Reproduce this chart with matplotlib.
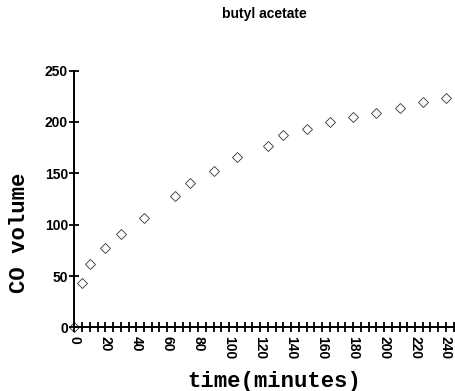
import numpy as np
import matplotlib.pyplot as plt
from matplotlib.ticker import MultipleLocator

# data
time_min = [0, 5, 10, 20, 30, 45, 65, 75, 90, 105, 125, 135, 150, 165, 180, 195, 210, 225, 240]
co_volume = [0, 43, 62, 77, 91, 107, 128, 141, 152, 166, 177, 187, 193, 200, 205, 209, 214, 219, 223]
x_ticks = list(range(0, 241, 20))
y_ticks = [0, 50, 100, 150, 200, 250]

tick_font = ['Liberation Sans Narrow', 'Liberation Sans', 'DejaVu Sans']
label_font = ['Liberation Mono', 'DejaVu Sans Mono']

fig = plt.figure(figsize=(4.56, 3.91), dpi=100)
ax = fig.add_axes([0.163, 0.1625, 0.832, 0.657])

ax.plot(time_min, co_volume, linestyle='none', marker='D', markersize=5.2,
        markerfacecolor='white', markeredgecolor='#333333', markeredgewidth=0.6,
        clip_on=False, zorder=1)

ax.set_xlim(0, 245)
ax.set_ylim(0, 250)

for s in ['top', 'right']:
    ax.spines[s].set_visible(False)
for s in ['left', 'bottom']:
    ax.spines[s].set_linewidth(1.4)
    ax.spines[s].set_zorder(3)

ax.xaxis.set_minor_locator(MultipleLocator(5))
ax.set_xticks(x_ticks)
ax.set_yticks(y_ticks)
ax.tick_params(axis='both', which='both', direction='inout', length=7, width=1.3)
ax.tick_params(axis='x', pad=3)
ax.tick_params(axis='y', pad=1)

for lab in ax.get_xticklabels():
    lab.set_family(tick_font)
    lab.set_fontweight('bold')
    lab.set_fontsize(10)
    lab.set_rotation(270)
for lab in ax.get_yticklabels():
    lab.set_family(tick_font)
    lab.set_fontweight('bold')
    lab.set_fontsize(10)

ax.set_xlabel('time(minutes)', family=label_font, fontweight='bold', fontsize=16, va='center')
ax.xaxis.set_label_coords(0.526, -0.212)
ax.set_ylabel('CO volume', family=label_font, fontweight='bold', fontsize=16, va='center')
ax.yaxis.set_label_coords(-0.144, 0.368)

fig.text(264 / 456, 1 - 14 / 391, 'butyl acetate', family=['Liberation Sans', 'DejaVu Sans'],
         fontweight='bold', fontsize=10, ha='center', va='center')

fig.savefig('out.png', dpi=100)
